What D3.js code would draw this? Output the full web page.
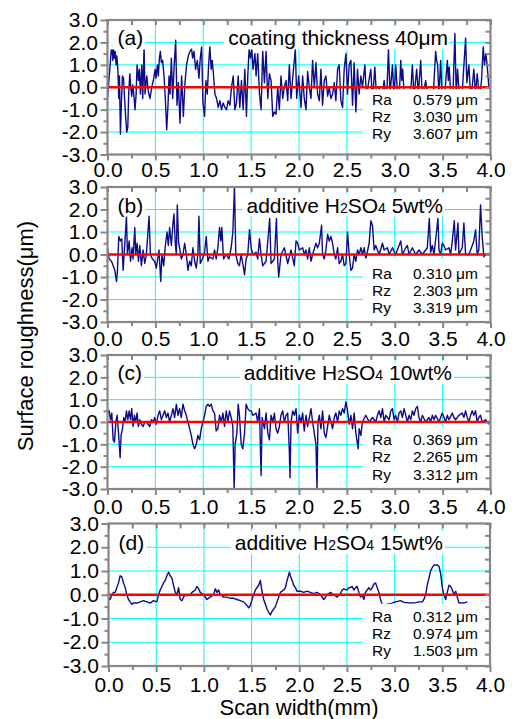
<!DOCTYPE html>
<html>
<head>
<meta charset="utf-8">
<script src="https://cdn.jsdelivr.net/npm/d3@7"></script>
<style>
  body { margin: 0; background: #fff; }
  text { font-family: "Liberation Sans", Arial, sans-serif; }
</style>
</head>
<body>
<svg id="chart" width="512" height="719"></svg>
<script>
// DATA
// surface profiles, [scan width (mm), height (um)]
var profileA = [[0,-0.5],[0.014,0.3],[0.028,1.0],[0.045,2.0],[0.056,1.2],[0.062,1.7],[0.073,1.3],[0.08,1.6],[0.09,1.0],[0.097,1.4],[0.108,0.8],[0.118,-0.5],[0.125,0.5],[0.135,-2.1],[0.146,-0.6],[0.156,0.5],[0.167,0.4],[0.177,-0.4],[0.188,-1.2],[0.201,-2.0],[0.212,-1.8],[0.222,-0.2],[0.233,0.6],[0.243,0.0],[0.253,-0.4],[0.264,0.1],[0.274,-0.3],[0.288,-1.0],[0.299,-0.3],[0.309,1.0],[0.323,0.3],[0.333,0.8],[0.344,-0.3],[0.358,1.0],[0.368,-0.5],[0.382,1.8],[0.392,-0.3],[0.41,0.5],[0.427,-0.2],[0.444,-0.5],[0.462,0.0],[0.479,0.3],[0.497,0.8],[0.507,0.4],[0.521,1.0],[0.531,0.5],[0.542,1.3],[0.552,1.6],[0.563,1.1],[0.576,1.2],[0.59,0.5],[0.604,-0.5],[0.618,-1.9],[0.632,-0.8],[0.642,0.5],[0.653,-0.3],[0.667,1.3],[0.681,-0.5],[0.694,0.8],[0.712,2.1],[0.726,-0.8],[0.74,0.2],[0.757,-1.6],[0.774,0.5],[0.792,-1.3],[0.809,0.2],[0.826,1.0],[0.844,1.4],[0.861,1.6],[0.878,1.7],[0.889,1.3],[0.903,1.6],[0.92,0.8],[0.938,1.2],[0.955,0.4],[0.969,1.3],[0.983,1.8],[0.997,-0.7],[1.014,-1.3],[1.028,0.3],[1.042,-0.3],[1.056,1.0],[1.069,1.8],[1.083,0.8],[1.094,1.2],[1.108,0.5],[1.122,-0.3],[1.139,-0.5],[1.156,-0.9],[1.174,-0.6],[1.191,-1.0],[1.208,-0.7],[1.226,-0.9],[1.243,-1.0],[1.26,-0.6],[1.278,-0.8],[1.295,0.0],[1.313,0.5],[1.33,-1.0],[1.347,-0.7],[1.365,0.5],[1.382,-0.9],[1.399,0.3],[1.417,-1.0],[1.434,0.8],[1.451,-1.3],[1.465,0.5],[1.479,1.7],[1.493,1.3],[1.507,1.7],[1.52,0.8],[1.54,1.5],[1.552,0.5],[1.569,1.5],[1.587,-0.3],[1.604,-1.0],[1.621,1.6],[1.639,0.2],[1.656,1.6],[1.674,-0.5],[1.691,0.6],[1.708,0.3],[1.726,-1.3],[1.743,-1.1],[1.76,-1.2],[1.778,0.0],[1.795,-1.0],[1.812,0.5],[1.83,-0.5],[1.847,0.0],[1.865,0.3],[1.882,-0.6],[1.899,1.0],[1.917,-0.5],[1.934,0.4],[1.951,1.2],[1.962,1.7],[1.976,-0.5],[1.996,0.5],[2.021,-0.9],[2.038,0.5],[2.055,-0.5],[2.073,-1.0],[2.09,0.7],[2.108,0.0],[2.125,-0.5],[2.142,1.2],[2.16,0.0],[2.177,1.1],[2.194,-0.3],[2.212,-0.6],[2.229,0.8],[2.246,-0.8],[2.264,0.3],[2.281,0.5],[2.299,-0.4],[2.316,0.0],[2.333,-0.5],[2.351,-0.3],[2.368,0.2],[2.385,-0.6],[2.403,0.8],[2.42,1.0],[2.437,-0.6],[2.455,-0.9],[2.472,0.8],[2.49,1.5],[2.507,-0.3],[2.524,1.0],[2.542,1.2],[2.559,-0.8],[2.576,1.1],[2.594,-1.1],[2.611,0.8],[2.628,-0.3],[2.646,0.5],[2.663,0.0],[2.688,1.0],[2.705,-0.5],[2.726,0.2],[2.75,0.8],[2.767,-0.6],[2.792,0.9],[2.809,-0.4],[2.837,0.0],[2.865,-0.5],[2.889,0.3],[2.913,-0.8],[2.934,1.7],[2.951,-0.3],[2.976,1.0],[2.993,-0.5],[3.01,1.0],[3.028,-0.2],[3.045,-0.6],[3.063,1.2],[3.073,0.3],[3.083,0.8],[3.101,-0.5],[3.132,-0.2],[3.16,-0.7],[3.184,1.0],[3.201,-0.4],[3.229,0.8],[3.246,-0.3],[3.271,1.2],[3.288,-0.5],[3.323,0.3],[3.351,-0.6],[3.375,-0.2],[3.399,-0.6],[3.427,1.6],[3.437,1.2],[3.448,1.0],[3.462,-0.4],[3.479,1.2],[3.496,-0.5],[3.524,-0.2],[3.549,1.2],[3.559,0.3],[3.569,0.9],[3.587,-0.5],[3.608,-0.3],[3.628,2.4],[3.642,-0.3],[3.656,0.8],[3.677,-0.5],[3.705,-0.2],[3.74,2.2],[3.753,0.2],[3.774,1.0],[3.792,-0.4],[3.809,0.0],[3.826,0.8],[3.844,-0.3],[3.861,0.6],[3.885,-0.5],[3.906,0.3],[3.924,1.8],[3.937,1.0],[3.951,1.5],[3.965,1.0],[3.983,0.0],[3.997,-0.1]];

var profileB = [[0,0.3],[0.017,-0.2],[0.042,-0.3],[0.059,-0.5],[0.076,-0.7],[0.094,-1.2],[0.104,-0.7],[0.118,0.8],[0.135,0.6],[0.149,0.7],[0.163,-0.7],[0.181,0.5],[0.198,1.7],[0.208,0.0],[0.226,0.6],[0.24,-0.3],[0.257,0.3],[0.267,-0.2],[0.285,1.2],[0.295,0.0],[0.309,0.5],[0.323,-0.3],[0.337,0.4],[0.354,-0.5],[0.372,0.2],[0.389,-0.4],[0.406,0.0],[0.434,1.7],[0.448,0.0],[0.469,-0.2],[0.493,-0.3],[0.51,-0.6],[0.538,0.2],[0.556,-1.2],[0.569,0.0],[0.587,-0.5],[0.604,0.4],[0.622,1.0],[0.635,0.4],[0.649,1.2],[0.667,0.4],[0.684,1.4],[0.694,1.8],[0.708,0.5],[0.719,0.0],[0.729,2.2],[0.743,0.5],[0.753,0.3],[0.771,-0.2],[0.788,0.0],[0.806,0.5],[0.823,0.0],[0.84,-0.7],[0.858,-0.3],[0.875,-0.5],[0.892,0.3],[0.91,-0.3],[0.927,-0.6],[0.944,0.0],[0.955,1.7],[0.969,-0.4],[0.99,-0.2],[1.014,0.1],[1.031,0.8],[1.049,-0.3],[1.066,-0.1],[1.101,-0.2],[1.118,0.2],[1.135,-0.2],[1.153,0.3],[1.17,1.2],[1.184,0.6],[1.194,1.2],[1.212,-0.2],[1.24,0.0],[1.267,-0.2],[1.292,0.3],[1.309,1.0],[1.326,3.0],[1.34,0.0],[1.361,-0.4],[1.378,-0.5],[1.396,0.0],[1.413,-0.4],[1.431,-0.9],[1.448,-0.2],[1.465,0.0],[1.483,1.1],[1.5,0.3],[1.517,0.0],[1.552,0.1],[1.569,-0.2],[1.587,0.7],[1.604,0.0],[1.621,-0.5],[1.656,-0.3],[1.674,0.6],[1.694,1.6],[1.708,-0.4],[1.743,-0.2],[1.764,1.6],[1.778,-0.3],[1.788,-1.0],[1.812,0.0],[1.847,0.3],[1.882,-0.4],[1.917,0.2],[1.951,-0.5],[1.969,0.6],[1.986,0.5],[2.003,0.2],[2.038,0.3],[2.055,0.0],[2.073,0.2],[2.09,-0.2],[2.108,0.3],[2.125,-0.3],[2.142,0.0],[2.177,0.5],[2.194,0.3],[2.212,0.5],[2.236,1.3],[2.246,0.0],[2.264,-0.2],[2.281,0.2],[2.299,0.9],[2.316,0.6],[2.333,0.8],[2.351,0.5],[2.368,0.0],[2.385,-0.2],[2.403,0.3],[2.42,-0.4],[2.437,-0.3],[2.455,0.0],[2.472,-0.5],[2.49,-0.4],[2.507,1.0],[2.524,0.0],[2.542,-0.7],[2.559,-0.6],[2.576,0.0],[2.594,-0.3],[2.611,0.2],[2.628,0.0],[2.646,0.3],[2.663,0.0],[2.681,0.3],[2.698,-0.2],[2.733,0.5],[2.75,1.5],[2.767,1.3],[2.785,0.2],[2.802,0.4],[2.837,0.0],[2.872,0.5],[2.889,0.2],[2.924,0.3],[2.941,0.0],[2.976,0.3],[3.01,0.0],[3.063,0.6],[3.08,0.0],[3.115,0.3],[3.132,0.4],[3.149,0.0],[3.184,0.3],[3.219,0.0],[3.253,0.2],[3.288,0.0],[3.323,0.2],[3.34,0.3],[3.361,1.6],[3.375,0.1],[3.392,0.4],[3.41,0.0],[3.451,1.6],[3.462,0.2],[3.479,0.0],[3.496,0.5],[3.514,0.4],[3.531,0.2],[3.566,0.3],[3.583,0.0],[3.601,0.6],[3.622,1.5],[3.635,0.2],[3.66,1.4],[3.67,0.0],[3.705,0.3],[3.722,1.4],[3.74,0.0],[3.774,0.0],[3.792,0.2],[3.826,0.6],[3.844,1.1],[3.861,0.0],[3.878,0.2],[3.896,2.2],[3.913,0.8],[3.931,-0.1],[3.948,0.0],[3.983,0.0],[3.997,0.0]];

var profileC = [[0,0.4],[0.017,0.5],[0.031,0.1],[0.045,0.4],[0.059,-0.8],[0.073,-0.9],[0.087,0.0],[0.101,0.3],[0.115,-0.5],[0.132,-1.6],[0.142,-0.6],[0.156,-0.3],[0.17,0.2],[0.184,0.0],[0.198,0.5],[0.212,0.1],[0.226,0.5],[0.24,0.1],[0.253,0.6],[0.267,-0.2],[0.281,0.3],[0.295,0.0],[0.309,0.4],[0.323,-0.2],[0.337,0.1],[0.354,-0.1],[0.372,-0.2],[0.389,0.0],[0.406,0.0],[0.424,-0.1],[0.441,-0.2],[0.458,0.1],[0.476,0.0],[0.493,0.2],[0.51,-0.1],[0.528,0.3],[0.545,0.5],[0.563,0.1],[0.58,0.3],[0.597,0.5],[0.615,0.2],[0.632,0.4],[0.649,0.0],[0.667,0.3],[0.684,0.6],[0.701,0.2],[0.719,0.8],[0.736,0.3],[0.753,0.6],[0.771,0.2],[0.788,0.8],[0.806,0.5],[0.823,0.3],[0.84,0.0],[0.858,-0.3],[0.875,-0.6],[0.892,-1.0],[0.91,-1.2],[0.927,-1.0],[0.944,-0.6],[0.962,-0.8],[0.979,-0.3],[0.997,0.0],[1.014,0.3],[1.031,0.7],[1.049,0.8],[1.066,0.7],[1.083,0.8],[1.101,0.5],[1.118,0.4],[1.135,-0.4],[1.153,-0.3],[1.17,0.3],[1.188,0.0],[1.205,0.4],[1.222,-0.2],[1.24,0.5],[1.257,0.0],[1.274,0.5],[1.292,0.2],[1.309,-0.2],[1.323,-3.0],[1.333,-1.0],[1.351,-0.5],[1.365,0.8],[1.378,0.3],[1.396,-1.0],[1.413,-1.2],[1.431,-0.5],[1.448,0.8],[1.465,0.6],[1.483,0.5],[1.5,0.5],[1.517,0.3],[1.552,0.4],[1.569,0.0],[1.587,0.6],[1.604,-2.4],[1.615,0.2],[1.639,-0.3],[1.656,0.4],[1.674,-0.5],[1.691,-0.8],[1.708,0.3],[1.726,0.0],[1.743,0.4],[1.76,-0.3],[1.778,-0.5],[1.795,-0.2],[1.812,0.3],[1.83,0.5],[1.847,0.0],[1.865,0.3],[1.882,0.4],[1.899,-1.3],[1.906,-2.5],[1.917,0.0],[1.934,0.5],[1.951,0.3],[1.969,0.6],[1.986,-0.5],[2.003,0.3],[2.021,0.0],[2.038,0.4],[2.055,-0.4],[2.073,0.3],[2.09,-0.2],[2.108,0.2],[2.125,0.6],[2.142,0.0],[2.16,-0.5],[2.177,-1.0],[2.188,-3.0],[2.198,0.0],[2.212,0.3],[2.229,-0.3],[2.246,0.5],[2.264,-0.5],[2.281,-0.7],[2.299,-0.2],[2.316,0.3],[2.333,0.0],[2.351,-0.3],[2.368,0.2],[2.385,0.4],[2.403,0.0],[2.42,0.5],[2.437,0.3],[2.455,0.6],[2.472,0.4],[2.49,0.9],[2.507,0.5],[2.524,-0.1],[2.542,0.3],[2.559,-0.3],[2.576,0.4],[2.594,-0.5],[2.618,-1.2],[2.628,-0.3],[2.646,-0.6],[2.663,0.0],[2.698,0.3],[2.733,0.0],[2.767,0.2],[2.802,0.0],[2.819,0.3],[2.837,0.5],[2.854,0.2],[2.872,0.6],[2.889,0.0],[2.906,0.3],[2.941,0.1],[2.958,0.5],[2.976,0.6],[2.993,0.1],[3.01,0.3],[3.028,0.0],[3.045,0.4],[3.063,0.5],[3.08,0.2],[3.097,0.6],[3.115,0.3],[3.132,0.0],[3.149,0.3],[3.167,0.1],[3.184,0.5],[3.201,0.3],[3.219,0.6],[3.236,0.7],[3.253,0.2],[3.271,0.0],[3.288,0.3],[3.323,0.0],[3.358,0.2],[3.375,0.0],[3.392,0.3],[3.41,0.1],[3.427,0.3],[3.462,0.0],[3.496,0.4],[3.514,0.2],[3.531,0.0],[3.549,0.3],[3.566,0.1],[3.601,0.4],[3.618,0.2],[3.635,0.1],[3.67,0.3],[3.705,0.4],[3.722,0.2],[3.74,0.5],[3.757,0.2],[3.774,0.0],[3.792,0.3],[3.809,0.5],[3.826,0.3],[3.844,0.5],[3.861,0.0],[3.878,0.2],[3.896,0.3],[3.913,0.0],[3.948,0.1],[3.983,-0.1]];

var profileD = [[0,-0.1],[0.017,-0.2],[0.035,0.0],[0.052,0.1],[0.07,0.1],[0.087,0.3],[0.105,0.5],[0.122,0.8],[0.14,0.75],[0.157,0.5],[0.175,0.3],[0.192,0.0],[0.21,-0.2],[0.227,-0.3],[0.245,-0.4],[0.262,-0.35],[0.297,-0.35],[0.332,-0.3],[0.367,-0.25],[0.402,-0.3],[0.437,-0.35],[0.472,-0.25],[0.507,-0.3],[0.525,0.0],[0.542,0.2],[0.56,0.35],[0.577,0.5],[0.595,0.6],[0.612,0.8],[0.63,0.95],[0.647,0.8],[0.665,0.7],[0.682,0.4],[0.7,0.1],[0.717,0.0],[0.735,0.3],[0.752,-0.2],[0.77,-0.25],[0.787,-0.1],[0.805,0.0],[0.822,-0.05],[0.857,0.0],[0.875,0.1],[0.91,0.2],[0.927,0.35],[0.945,0.25],[0.962,0.1],[0.997,0.0],[1.032,-0.2],[1.067,-0.1],[1.102,0.0],[1.12,0.25],[1.137,0.1],[1.155,0.2],[1.172,0.0],[1.207,-0.1],[1.242,-0.1],[1.277,-0.15],[1.312,-0.15],[1.347,-0.2],[1.382,-0.25],[1.417,-0.3],[1.452,-0.45],[1.47,-0.55],[1.487,-0.45],[1.505,-0.2],[1.522,0.0],[1.54,0.2],[1.557,0.3],[1.575,0.4],[1.592,0.6],[1.603,0.3],[1.617,0.0],[1.627,-0.2],[1.645,-0.4],[1.662,-0.6],[1.68,-0.75],[1.697,-0.85],[1.715,-0.7],[1.732,-0.6],[1.75,-0.5],[1.767,-0.3],[1.785,-0.1],[1.802,0.1],[1.82,0.15],[1.837,0.2],[1.855,0.3],[1.872,0.6],[1.897,0.95],[1.907,0.8],[1.925,0.6],[1.942,0.4],[1.96,0.3],[1.977,0.15],[2.012,0.15],[2.047,0.1],[2.082,0.15],[2.117,0.1],[2.152,0.05],[2.187,0.1],[2.222,0.0],[2.257,-0.2],[2.275,-0.1],[2.292,0.0],[2.327,0.1],[2.362,0.0],[2.397,-0.1],[2.432,0.05],[2.45,0.2],[2.467,0.25],[2.502,0.2],[2.52,0.3],[2.537,0.3],[2.555,0.35],[2.572,0.2],[2.59,0.3],[2.607,0.35],[2.625,0.1],[2.642,-0.1],[2.66,0.0],[2.677,-0.2],[2.695,0.1],[2.712,0.2],[2.73,0.3],[2.747,0.2],[2.765,0.3],[2.782,0.45],[2.8,0.5],[2.817,0.3],[2.835,0.1],[2.852,-0.2],[2.87,-0.4],[2.887,-0.45],[2.922,-0.4],[2.975,-0.35],[3.01,-0.3],[3.062,-0.25],[3.097,-0.32],[3.15,-0.35],[3.202,-0.35],[3.255,-0.3],[3.29,-0.3],[3.307,-0.2],[3.325,0.0],[3.342,0.4],[3.36,0.7],[3.377,1.0],[3.395,1.15],[3.412,1.25],[3.447,1.25],[3.465,1.2],[3.482,0.9],[3.5,0.3],[3.517,0.0],[3.535,-0.2],[3.552,0.1],[3.57,0.4],[3.587,0.35],[3.605,0.2],[3.622,0.0],[3.64,0.15],[3.657,-0.1],[3.675,-0.35],[3.692,-0.35],[3.727,-0.35],[3.762,-0.3]];

// panel tags and titles ([text, isSubscript])
var panelTags = ["(a)", "(b)", "(c)", "(d)"];
var titleA = [["coating thickness 40\u03bcm", 0]];
var titleB = [["additive H", 0], ["2", 1], ["SO", 0], ["4", 1], [" 5wt%", 0]];
var titleC = [["additive H", 0], ["2", 1], ["SO", 0], ["4", 1], [" 10wt%", 0]];
var titleD = [["additive H", 0], ["2", 1], ["SO", 0], ["4", 1], [" 15wt%", 0]];

// roughness parameters (um)
var statNames = ["Ra", "Rz", "Ry"];
var statsA = [0.579, 3.030, 3.607];
var statsB = [0.310, 2.303, 3.319];
var statsC = [0.369, 2.265, 3.312];
var statsD = [0.312, 0.974, 1.503];

// axes
var xMajor = [0, 0.5, 1, 1.5, 2, 2.5, 3, 3.5, 4];
var xMinor = [0.25, 0.75, 1.25, 1.75, 2.25, 2.75, 3.25, 3.75];
var yMajor = [-3, -2, -1, 0, 1, 2, 3];
var yMinor = [-2.5, -1.5, -0.5, 0.5, 1.5, 2.5];
var xGrid = [0.5, 1, 1.5, 2, 2.5, 3, 3.5];
var yGrid = [-2, -1, 1, 2];

// LAYOUT (pixel boxes of the four stacked panels)
var panels = [
  { profile: profileA, title: titleA, stats: statsA, left: 107.5, right: 490.5, top: 20, bottom: 154.5,
    labPad: 2, titleRight: 448, rows: [17.5, 35, 52], boxOff: 2 },
  { profile: profileB, title: titleB, stats: statsB, left: 107.5, right: 490.5, top: 187, bottom: 322,
    labPad: 3, titleRight: 443, rows: [24, 41, 58], boxOff: 4 },
  { profile: profileC, title: titleC, stats: statsC, left: 107.5, right: 490.5, top: 355, bottom: 489,
    labPad: 4, titleRight: 452, rows: [23, 40, 58], boxOff: 5 },
  { profile: profileD, title: titleD, stats: statsD, left: 108.5, right: 490, top: 523.5, bottom: 666,
    labPad: 5, titleRight: 443, rows: [27.5, 44.5, 61], boxOff: 9 }
];

var frameColor = "#868686",
  gridColor = "#00ffff",
  lineColor = "#0b0b8c",
  zeroColor = "#ff0000";

var svg = d3.select("#chart");
var fmt = function (v) { return v.toFixed(1); };

panels.forEach(function (p, i) {
  var x = d3.scaleLinear().domain([0, 4]).range([p.left, p.right]);
  var y = d3.scaleLinear().domain([-3, 3]).range([p.bottom, p.top]);
  var g = svg.append("g");

  g.append("clipPath").attr("id", "clip" + i)
    .append("rect")
    .attr("x", p.left).attr("y", p.top)
    .attr("width", p.right - p.left).attr("height", p.bottom - p.top);

  // grid lines
  g.selectAll(".vg").data(xGrid).enter().append("line")
    .attr("x1", x).attr("x2", x)
    .attr("y1", p.top).attr("y2", p.bottom)
    .attr("stroke", gridColor).attr("stroke-width", 1);
  g.selectAll(".hg").data(yGrid).enter().append("line")
    .attr("x1", p.left).attr("x2", p.right)
    .attr("y1", y).attr("y2", y)
    .attr("stroke", gridColor).attr("stroke-width", 1);

  // profile
  var line = d3.line()
    .x(function (d) { return x(d[0]); })
    .y(function (d) { return y(d[1]); });
  g.append("path")
    .datum(p.profile)
    .attr("clip-path", "url(#clip" + i + ")")
    .attr("d", line)
    .attr("fill", "none")
    .attr("stroke", lineColor)
    .attr("stroke-width", 1.4)
    .attr("stroke-linejoin", "round");

  // zero line
  g.append("line")
    .attr("x1", p.left).attr("x2", p.right)
    .attr("y1", y(0)).attr("y2", y(0))
    .attr("stroke", zeroColor).attr("stroke-width", 2.5);

  // stats box
  g.append("rect")
    .attr("x", 363).attr("y", y(0) + p.boxOff)
    .attr("width", p.right - 363).attr("height", p.bottom - y(0) - p.boxOff)
    .attr("fill", "#fff");
  statNames.forEach(function (name, k) {
    g.append("text")
      .attr("x", 372).attr("y", y(0) + p.rows[k])
      .attr("font-size", 15.5)
      .text(name);
    g.append("text")
      .attr("x", 413).attr("y", y(0) + p.rows[k])
      .attr("font-size", 15.5)
      .text(p.stats[k].toFixed(3) + " \u03bcm");
  });

  // tag label with white background
  var tagBg = g.append("rect").attr("fill", "#fff");
  var tag = g.append("text")
    .attr("x", p.left + 10).attr("y", y(2) + 3)
    .attr("font-size", 21)
    .text(panelTags[i]);
  var tb = tag.node().getBBox();
  tagBg.attr("x", p.left + 2).attr("y", tb.y)
    .attr("width", tb.x + tb.width + 2 - p.left - 2).attr("height", tb.height);

  // title label with white background
  var titleBg = g.append("rect").attr("fill", "#fff");
  var title = g.append("text")
    .attr("x", p.titleRight).attr("y", y(2) + 3)
    .attr("text-anchor", "end")
    .attr("font-size", 21);
  p.title.forEach(function (part) {
    title.append("tspan")
      .attr("font-size", part[1] ? 14 : 21)
      .text(part[0]);
  });
  var bb = title.node().getBBox();
  titleBg.attr("x", bb.x - 4).attr("y", bb.y)
    .attr("width", bb.width + 6).attr("height", bb.height);

  // axes: bottom/left outward, top/right inward
  function styleAxis(sel) {
    sel.select(".domain").remove();
    sel.selectAll("line").attr("stroke", frameColor).attr("stroke-width", 2);
    sel.selectAll("text")
      .attr("font-family", "\"Liberation Sans\", Arial, sans-serif")
      .attr("font-size", 21).attr("fill", "#000");
  }
  g.append("g").attr("transform", "translate(0," + p.bottom + ")")
    .call(d3.axisBottom(x).tickValues(xMajor).tickSize(6).tickPadding(p.labPad).tickFormat(fmt))
    .call(styleAxis);
  g.append("g").attr("transform", "translate(0," + p.bottom + ")")
    .call(d3.axisBottom(x).tickValues(xMinor).tickSize(4).tickFormat(""))
    .call(styleAxis);
  g.append("g").attr("transform", "translate(0," + p.top + ")")
    .call(d3.axisBottom(x).tickValues(xMajor.concat(xMinor)).tickSize(5).tickFormat(""))
    .call(styleAxis);
  g.append("g").attr("transform", "translate(" + p.left + ",0)")
    .call(d3.axisLeft(y).tickValues(yMajor).tickSize(7).tickPadding(2.5).tickFormat(fmt))
    .call(styleAxis);
  g.append("g").attr("transform", "translate(" + p.left + ",0)")
    .call(d3.axisLeft(y).tickValues(yMinor).tickSize(4).tickFormat(""))
    .call(styleAxis);
  g.append("g").attr("transform", "translate(" + p.right + ",0)")
    .call(d3.axisLeft(y).tickValues(yMajor.concat(yMinor)).tickSize(5).tickFormat(""))
    .call(styleAxis);

  // frame
  g.append("rect")
    .attr("x", p.left).attr("y", p.top)
    .attr("width", p.right - p.left).attr("height", p.bottom - p.top)
    .attr("fill", "none")
    .attr("stroke", frameColor)
    .attr("stroke-width", 2.2);
});

// axis titles
svg.append("text")
  .attr("transform", "translate(33,336) rotate(-90)")
  .attr("text-anchor", "middle")
  .attr("font-size", 22)
  .text("Surface roughness(\u03bcm)");
svg.append("text")
  .attr("x", 299).attr("y", 715)
  .attr("text-anchor", "middle")
  .attr("font-size", 22)
  .text("Scan width(mm)");
</script>
</body>
</html>
